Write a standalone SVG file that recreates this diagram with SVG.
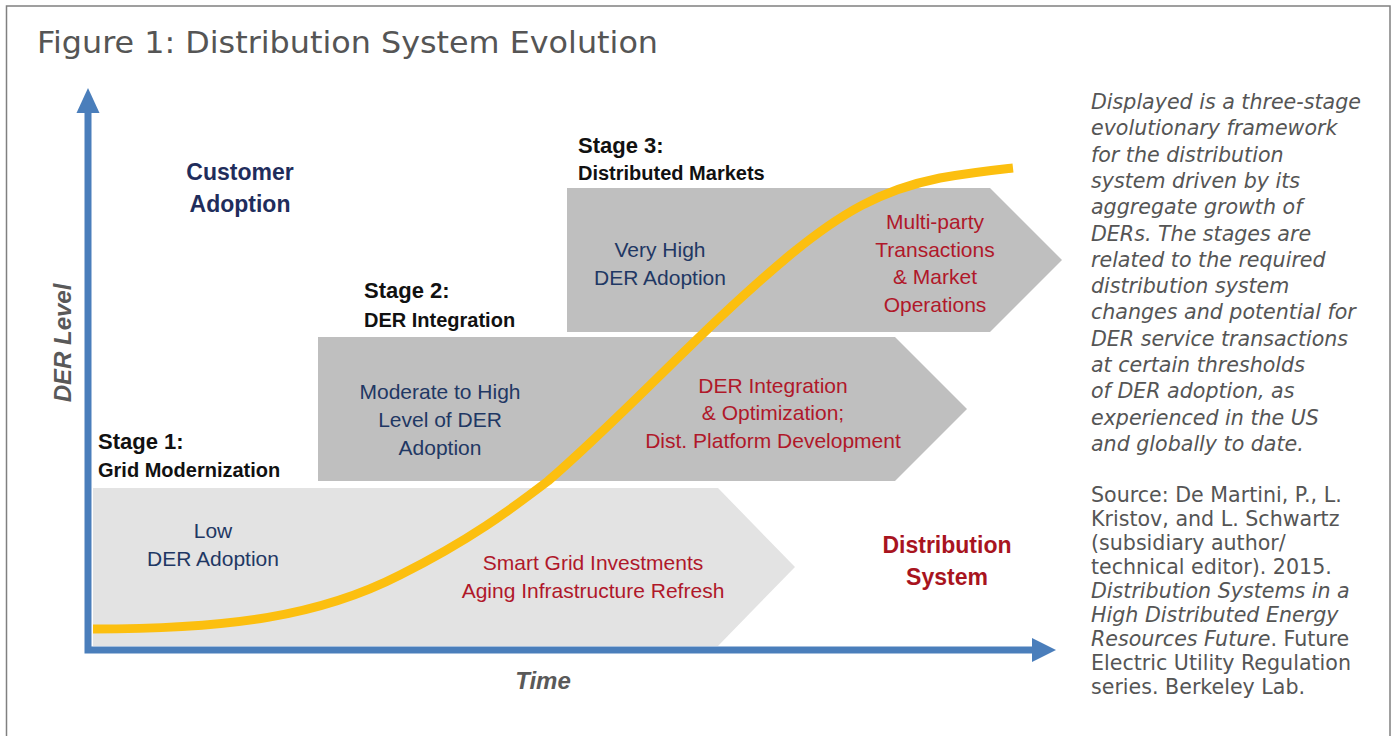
<svg xmlns="http://www.w3.org/2000/svg" width="1394" height="736" viewBox="0 0 1394 736">
<style>
.title{font-family:"DejaVu Sans","Open Sans",sans-serif;font-size:30px;fill:#555555}
.side{font-family:"DejaVu Sans","Open Sans",sans-serif;font-size:20.6px;fill:#555555}
.it{font-style:italic}
.d{font-family:"Liberation Sans",Arial,sans-serif}
.stg{font-size:22px;font-weight:bold;fill:#111111}
.sub{font-size:20px;font-weight:bold;fill:#111111}
.navy{font-size:21px;fill:#1f3864;text-anchor:middle}
.red{font-size:21px;fill:#b0182a;text-anchor:middle}
.big{font-size:23px;font-weight:bold;text-anchor:middle}
.axl{font-size:24px;font-weight:bold;font-style:italic;fill:#595959;text-anchor:middle}
.axis{fill:none;stroke:#4a7ebb;stroke-width:7}
.ah{fill:#4a7ebb}
</style>
<rect x="6.5" y="6" width="1383.5" height="740" fill="#ffffff" stroke="#808080" stroke-width="1.5"/>
<text class="title" x="37" y="53" textLength="621" lengthAdjust="spacingAndGlyphs">Figure 1: Distribution System Evolution</text>

<g id="stage1">
<polygon points="93,488 718,488 795,567 718,646 93,646" fill="#e3e3e3"/>
<text class="d stg" x="98" y="449">Stage 1:</text>
<text class="d sub" x="98" y="477">Grid Modernization</text>
<text class="d navy" x="213" y="538">Low</text>
<text class="d navy" x="213" y="566">DER Adoption</text>
<text class="d red" x="593" y="570">Smart Grid Investments</text>
<text class="d red" x="593" y="598">Aging Infrastructure Refresh</text>
</g>

<g id="stage2">
<polygon points="318,337 895,337 967,409 895,481 318,481" fill="#bfbfbf"/>
<text class="d stg" x="364" y="298">Stage 2:</text>
<text class="d sub" x="364" y="327">DER Integration</text>
<text class="d navy" x="440" y="399">Moderate to High</text>
<text class="d navy" x="440" y="427">Level of DER</text>
<text class="d navy" x="440" y="455">Adoption</text>
<text class="d red" x="773" y="393">DER Integration</text>
<text class="d red" x="773" y="420">&amp; Optimization;</text>
<text class="d red" x="773" y="448">Dist. Platform Development</text>
</g>

<g id="stage3">
<polygon points="567,188 990,188 1062,260 990,332 567,332" fill="#bfbfbf"/>
<text class="d stg" x="578" y="153">Stage 3:</text>
<text class="d sub" x="578" y="180">Distributed Markets</text>
<text class="d navy" x="660" y="257">Very High</text>
<text class="d navy" x="660" y="285">DER Adoption</text>
<text class="d red" x="935" y="229">Multi-party</text>
<text class="d red" x="935" y="257">Transactions</text>
<text class="d red" x="935" y="284">&amp; Market</text>
<text class="d red" x="935" y="312">Operations</text>
</g>

<g id="curve">
<path d="M93,629 C230,629 320,616 400,575 C470,540 510,510 548,481 C630,410 700,330 790,255 C840,214 880,190 940,178 C975,172 995,170 1013,168" fill="none" stroke="#fcbf0f" stroke-width="9"/>
</g>

<g id="customer-adoption">
<text class="d big" x="240" y="180" fill="#1f2d5c">Customer</text>
<text class="d big" x="240" y="212" fill="#1f2d5c">Adoption</text>
</g>
<g id="distribution-system">
<text class="d big" x="947" y="553" fill="#a8141e">Distribution</text>
<text class="d big" x="947" y="585" fill="#a8141e">System</text>
</g>

<g id="connectors">
<path class="axis" d="M88,112 L88,650 L1035,650" stroke-linejoin="miter"/>
<polygon class="ah" points="88,88 76.5,113 99.5,113"/>
<polygon class="ah" points="1056,650 1032,638 1032,662"/>
</g>

<g id="axis-labels">
<text class="d axl" transform="translate(71,343) rotate(-90)" x="0" y="0">DER Level</text>
<text class="d axl" x="543" y="689">Time</text>
</g>

<g id="caption">
<text class="side it" x="1091">
<tspan x="1091" y="109">Displayed is a three-stage</tspan>
<tspan x="1091" y="135.3">evolutionary framework</tspan>
<tspan x="1091" y="161.6">for the distribution</tspan>
<tspan x="1091" y="187.9">system driven by its</tspan>
<tspan x="1091" y="214.2">aggregate growth of</tspan>
<tspan x="1091" y="240.5">DERs. The stages are</tspan>
<tspan x="1091" y="266.8">related to the required</tspan>
<tspan x="1091" y="293.1">distribution system</tspan>
<tspan x="1091" y="319.4">changes and potential for</tspan>
<tspan x="1091" y="345.7">DER service transactions</tspan>
<tspan x="1091" y="372">at certain thresholds</tspan>
<tspan x="1091" y="398.3">of DER adoption, as</tspan>
<tspan x="1091" y="424.6">experienced in the US</tspan>
<tspan x="1091" y="450.9">and globally to date.</tspan>
</text>
<text class="side" x="1091">
<tspan x="1091" y="502">Source: De Martini, P., L.</tspan>
<tspan x="1091" y="526">Kristov, and L. Schwartz</tspan>
<tspan x="1091" y="550">(subsidiary author/</tspan>
<tspan x="1091" y="574">technical editor). 2015.</tspan>
<tspan x="1091" y="598" font-style="italic">Distribution Systems in a</tspan>
<tspan x="1091" y="622" font-style="italic">High Distributed Energy</tspan>
<tspan x="1091" y="646" font-style="italic">Resources Future</tspan><tspan>. Future</tspan>
<tspan x="1091" y="670">Electric Utility Regulation</tspan>
<tspan x="1091" y="694">series. Berkeley Lab.</tspan>
</text>
</g>
</svg>
